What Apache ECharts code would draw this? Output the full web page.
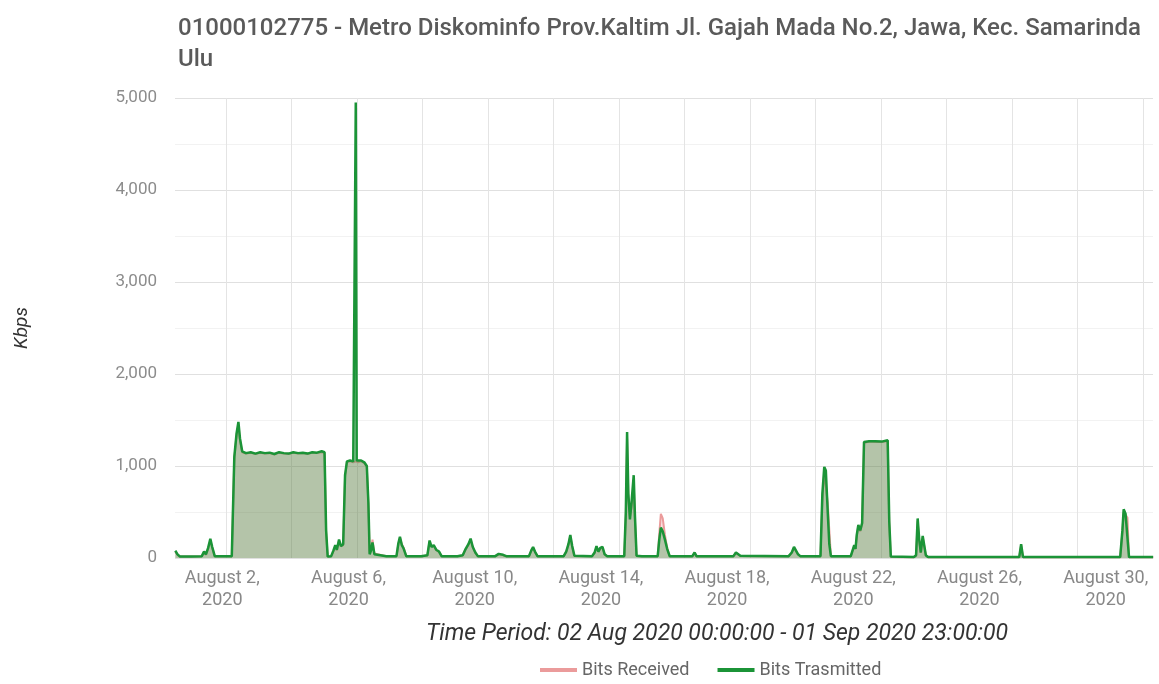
<!DOCTYPE html>
<html><head><meta charset="utf-8">
<script src="https://cdn.jsdelivr.net/npm/echarts@6/dist/echarts.min.js"></script>
<style>html,body{margin:0;padding:0;background:#fff}#c{width:1159px;height:684px}</style>
</head><body><div id="c"></div>
<script>
const titleText = '01000102775 - Metro Diskominfo Prov.Kaltim Jl. Gajah Mada No.2, Jawa, Kec. Samarinda\nUlu';
const periodText = 'Time Period: 02 Aug 2020 00:00:00 - 01 Sep 2020 23:00:00';
const yAxisName = 'Kbps';
const seriesNames = ['Bits Received', 'Bits Trasmitted'];
// x values are day-of-August (decimal)
const labelDays = [2, 6, 10, 14, 18, 22, 26, 30];
const gridDays = [2.13, 4.2, 6.28, 8.35, 10.43, 12.5, 14.58, 16.65, 18.73, 20.8, 22.88, 24.95, 27.03, 29.1, 31.18];
const xMin = 0.5, xMax = 31.5;
const yMax = 5000, yStep = 1000;

const times = [0.51,0.58,0.66,1.00,1.35,1.42,1.48,1.55,1.62,1.68,1.76,2.30,2.38,2.45,2.51,2.56,2.63,2.75,2.90,3.05,3.20,3.35,3.50,3.65,3.80,3.95,4.10,4.25,4.40,4.55,4.70,4.85,5.00,5.15,5.24,5.29,5.34,5.45,5.52,5.58,5.63,5.70,5.76,5.83,5.89,5.95,6.05,6.15,6.20,6.23,6.26,6.30,6.40,6.50,6.58,6.63,6.67,6.72,6.76,6.82,7.20,7.52,7.58,7.63,7.69,7.75,7.83,8.30,8.50,8.57,8.63,8.70,8.78,8.87,8.95,9.45,9.62,9.70,9.80,9.87,9.94,10.02,10.10,10.65,10.76,10.82,10.90,11.00,11.72,11.79,11.85,11.91,11.99,12.82,12.90,12.97,13.03,13.09,13.16,13.72,13.80,13.86,13.92,13.98,14.05,14.12,14.20,14.74,14.79,14.83,14.87,14.92,14.97,15.04,15.08,15.13,15.30,15.80,15.85,15.90,15.96,16.03,16.10,16.18,16.90,16.97,17.03,18.20,18.28,18.34,18.42,19.95,20.05,20.12,20.18,20.25,20.32,20.96,21.02,21.08,21.13,21.19,21.24,21.29,21.92,21.98,22.03,22.07,22.11,22.16,22.22,22.28,22.34,22.50,22.70,22.90,23.09,23.14,23.19,23.92,23.99,24.04,24.09,24.14,24.20,24.24,24.30,24.37,27.26,27.32,27.38,30.46,30.53,30.57,30.63,30.69,30.74,31.505];

const transmitted = [80,40,15,15,20,70,40,110,210,120,20,20,1100,1350,1480,1300,1160,1140,1150,1135,1150,1140,1145,1130,1150,1140,1135,1150,1140,1145,1135,1150,1145,1160,1150,300,15,20,80,140,90,200,130,150,900,1050,1060,1050,1055,4950,1060,1050,1060,1040,1000,600,40,90,170,40,20,20,160,230,140,100,20,20,30,190,120,140,90,70,20,20,30,90,150,210,120,60,20,20,45,55,35,20,20,80,120,70,20,20,70,150,250,130,25,20,60,130,70,110,120,40,20,20,500,1370,700,420,600,900,450,25,20,20,200,330,290,200,100,20,20,60,20,20,60,80,25,20,60,120,130,40,20,20,700,990,950,500,150,20,20,40,140,100,250,360,300,380,1260,1270,1268,1265,1280,400,15,10,30,430,200,60,240,250,30,10,10,150,10,10,300,530,480,460,10,10];

const received = [70,35,15,15,18,60,35,100,190,110,18,18,1080,1330,1450,1280,1150,1135,1145,1130,1145,1135,1140,1125,1145,1135,1130,1145,1135,1140,1130,1145,1140,1150,1145,280,15,18,70,130,85,190,125,140,880,1040,1050,1040,1045,1050,1050,1040,1050,1030,990,580,60,120,200,50,18,18,150,220,150,110,18,18,28,180,130,130,85,65,18,18,28,85,140,200,115,55,18,18,40,50,30,18,18,75,110,65,18,18,65,140,240,120,22,18,55,120,65,100,110,38,18,18,450,1300,650,450,550,800,400,22,18,18,260,480,430,250,110,18,18,55,18,18,55,75,22,18,55,110,120,38,18,18,650,930,940,600,300,18,18,35,130,95,240,350,290,370,1250,1265,1262,1260,1275,380,12,8,25,400,190,55,230,240,25,8,8,140,8,8,280,500,470,440,8,8];

const chart = echarts.init(document.getElementById('c'), null, {renderer: 'canvas'});
const font = 'Roboto';
const rxData = times.map((t, i) => [t, received[i]]);
const txData = times.map((t, i) => [t, transmitted[i]]);

chart.setOption({
  animation: false,
  backgroundColor: '#ffffff',
  textStyle: {fontFamily: font},
  title: [{
    text: titleText, left: 173, top: 8,
    textStyle: {fontSize: 24, fontWeight: 500, color: '#5a5a5a', fontFamily: font, lineHeight: 31}
  }],
  graphic: [{
    type: 'text', x: 717, y: 634,
    style: {text: periodText, align: 'center', verticalAlign: 'middle', textAlign: 'center', textVerticalAlign: 'middle',
      font: 'italic 23px Roboto', fill: '#333'}
  }],
  legend: {
    left: 535, top: 656, itemWidth: 37, itemHeight: 4, itemGap: 28, icon: 'rect',
    textStyle: {fontSize: 18, color: '#666', fontFamily: font},
    data: seriesNames
  },
  grid: {left: 175, right: 6, top: 98, bottom: 126, containLabel: false},
  xAxis: {
    type: 'value', min: xMin, max: xMax,
    axisLine: {show: false},
    axisTick: {show: false, customValues: gridDays},
    splitLine: {show: true, lineStyle: {color: '#e4e4e4', width: 1}},
    axisLabel: {
      customValues: labelDays, margin: 9, color: '#888', fontSize: 18, lineHeight: 22, fontFamily: font,
      formatter: v => 'August ' + v + ',\n2020'
    }
  },
  yAxis: {
    type: 'value', min: 0, max: yMax, interval: yStep,
    name: yAxisName, nameLocation: 'middle', nameRotate: 90, nameGap: 143,
    nameTextStyle: {fontStyle: 'italic', fontSize: 19, color: '#333', fontFamily: font},
    axisLine: {show: false}, axisTick: {show: false},
    axisLabel: {margin: 18, color: '#8c8c8c', fontSize: 17, fontFamily: font},
    splitLine: {lineStyle: {color: '#e0e0e0'}},
    minorTick: {show: false, splitNumber: 2},
    minorSplitLine: {show: true, lineStyle: {color: '#f2f2f2'}}
  },
  series: [{
    name: seriesNames[0], type: 'line', data: rxData, symbol: 'none', z: 2,
    lineStyle: {color: '#eb9b9b', width: 2},
    itemStyle: {color: '#eb9b9b'},
    areaStyle: {color: 'rgba(230,110,110,0.3)'}
  }, {
    name: seriesNames[1], type: 'line', data: txData, symbol: 'none', z: 3,
    lineStyle: {color: '#1b9437', width: 2.5},
    itemStyle: {color: '#1b9437'},
    areaStyle: {color: 'rgba(30,135,50,0.45)'}
  }]
});
</script></body></html>
